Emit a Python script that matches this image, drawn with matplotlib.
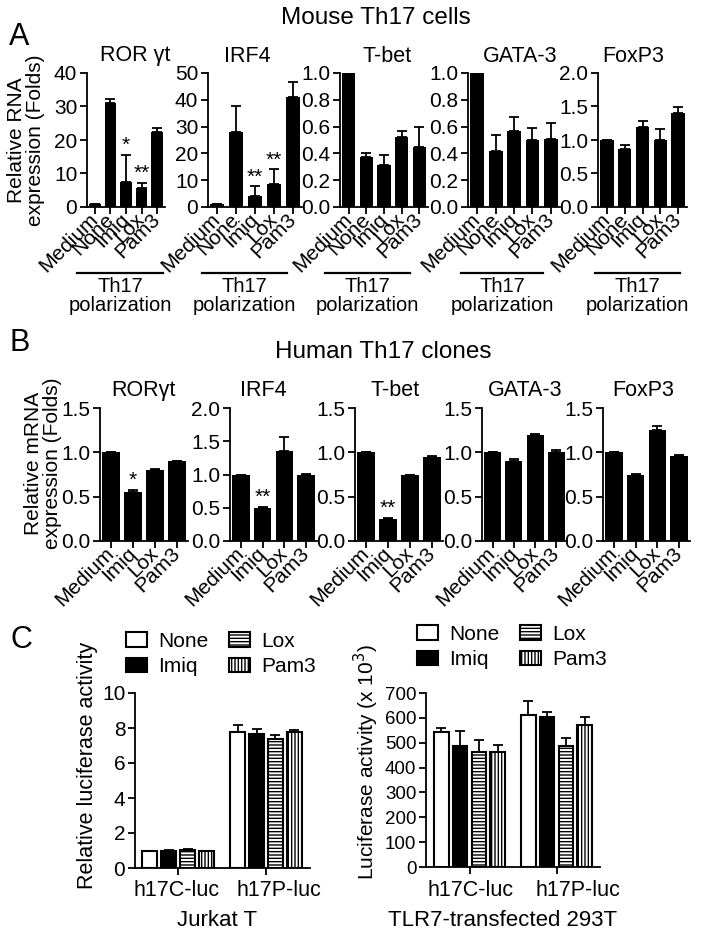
import numpy as np
import matplotlib.pyplot as plt
from matplotlib.patches import Patch
from matplotlib.lines import Line2D
from matplotlib.transforms import ScaledTranslation

plt.rcParams['font.family'] = ['Liberation Sans', 'DejaVu Sans']
plt.rcParams['hatch.linewidth'] = 1.0
plt.rcParams['hatch.color'] = 'k'

W, H = 704, 939

# ---- panel A: mouse Th17 cells ----
mouse_conds = ["Medium", "None", "Imiq", "Lox", "Pam3"]
mouse_genes = ["ROR \u03b3t", "IRF4", "T-bet", "GATA-3", "FoxP3"]
mouse_ror = [1.0, 31.0, 7.5, 5.8, 22.5]
mouse_ror_err = [0.0, 1.2, 8.0, 1.3, 1.2]
mouse_irf4 = [1.0, 28.0, 4.0, 8.5, 41.0]
mouse_irf4_err = [0.0, 9.5, 3.7, 5.5, 5.5]
mouse_tbet = [1.0, 0.37, 0.31, 0.52, 0.45]
mouse_tbet_err = [0.0, 0.03, 0.08, 0.05, 0.15]
mouse_gata3 = [1.0, 0.42, 0.57, 0.50, 0.51]
mouse_gata3_err = [0.0, 0.12, 0.10, 0.09, 0.12]
mouse_foxp3 = [1.0, 0.87, 1.20, 1.00, 1.40]
mouse_foxp3_err = [0.0, 0.06, 0.09, 0.16, 0.09]
mouse_stars = [["", "", "*", "**", ""], ["", "", "**", "**", ""],
               [""] * 5, [""] * 5, [""] * 5]
mouse_yticks = [np.arange(0, 41, 10), np.arange(0, 51, 10),
                np.arange(0, 1.01, 0.2), np.arange(0, 1.01, 0.2),
                np.arange(0, 2.01, 0.5)]
mouse_fmt = ["%d", "%d", "%.1f", "%.1f", "%.1f"]

# ---- panel B: human Th17 clones ----
human_conds = ["Medium", "Imiq", "Lox", "Pam3"]
human_genes = ["ROR\u03b3t", "IRF4", "T-bet", "GATA-3", "FoxP3"]
human_ror = [1.0, 0.55, 0.80, 0.90]
human_ror_err = [0.0, 0.03, 0.01, 0.0]
human_irf4 = [1.0, 0.50, 1.35, 1.00]
human_irf4_err = [0.0, 0.01, 0.22, 0.01]
human_tbet = [1.0, 0.25, 0.75, 0.95]
human_tbet_err = [0.0, 0.01, 0.0, 0.01]
human_gata3 = [1.0, 0.90, 1.20, 1.00]
human_gata3_err = [0.0, 0.02, 0.01, 0.03]
human_foxp3 = [1.0, 0.75, 1.25, 0.96]
human_foxp3_err = [0.0, 0.01, 0.05, 0.01]
human_stars = [["", "*", "", ""], ["", "**", "", ""], ["", "**", "", ""],
               [""] * 4, [""] * 4]
human_yticks = [np.arange(0, 1.51, 0.5), np.arange(0, 2.01, 0.5),
                np.arange(0, 1.51, 0.5), np.arange(0, 1.51, 0.5),
                np.arange(0, 1.51, 0.5)]

# ---- panel C: luciferase ----
reporters = ["h17C-luc", "h17P-luc"]
treatments = ["None", "Imiq", "Lox", "Pam3"]
jurkat = [[1.0, 7.8], [1.0, 7.65], [1.05, 7.4], [1.0, 7.75]]
jurkat_err = [[0.0, 0.35], [0.05, 0.3], [0.05, 0.2], [0.0, 0.15]]
hek = [[545, 612], [487, 603], [462, 485], [462, 572]]
hek_err = [[15, 55], [60, 20], [48, 35], [30, 32]]

fig = plt.figure(figsize=(W / 100, H / 100), dpi=100)


def add_ax(l, t, r, b):
    return fig.add_axes([l / W, 1 - b / H, (r - l) / W, (b - t) / H])


def ftext(x, y, s, **kw):
    return fig.text(x / W, 1 - y / H, s, **kw)


def style(ax, size=15):
    for s in ['top', 'right']:
        ax.spines[s].set_visible(False)
    for s in ['left', 'bottom']:
        ax.spines[s].set_linewidth(1.3)
    ax.tick_params(direction='out', length=5, width=1.3, labelsize=size, pad=2)


def bar_panel(ax, conds, vals, errs, stars, yticks, fmt, width):
    x = np.arange(len(conds))
    ax.bar(x, vals, width=width, color='k')
    ax.errorbar(x, vals, yerr=[np.zeros(len(vals)), errs], fmt='none',
                ecolor='k', elinewidth=1.3, capsize=3.5, capthick=1.3)
    for xi, v, e, s in zip(x, vals, errs, stars):
        if s:
            ax.annotate(s, (xi, v + e), xytext=(0, 0), textcoords='offset points',
                        ha='center', va='bottom', fontsize=15)
    ax.set_xlim(-0.5, len(conds) - 0.5)
    ax.set_ylim(yticks[0], yticks[-1])
    ax.set_yticks(yticks)
    ax.set_yticklabels([fmt % t for t in yticks])
    ax.set_xticks(x)
    ax.set_xticklabels(conds, rotation=45, ha='right', va='center',
                       rotation_mode='anchor', fontsize=13)
    style(ax)


# ---- A ----
ftext(9, 37, "A", fontsize=22, ha='left', va='center')
ftext(376, 18, "Mouse Th17 cells", fontsize=17.5, ha='center', va='center')
ftext(26, 140, "Relative RNA\nexpression (Folds)", fontsize=15, rotation=90,
      ha='center', va='center', multialignment='center', linespacing=1.0)

mouse_vals = [mouse_ror, mouse_irf4, mouse_tbet, mouse_gata3, mouse_foxp3]
mouse_errs = [mouse_ror_err, mouse_irf4_err, mouse_tbet_err, mouse_gata3_err,
              mouse_foxp3_err]
a_boxes = [(87, 165), (208, 302), (340, 428), (468, 560), (598, 687)]
a_title_x = [135, 247, 387, 520, 633]
a_lines = [(77, 163), (202, 287), (325, 410), (461, 543), (595, 680)]
for i in range(5):
    l, r = a_boxes[i]
    ax = add_ax(l, 73, r, 207)
    bar_panel(ax, mouse_conds, mouse_vals[i], mouse_errs[i], mouse_stars[i],
              mouse_yticks[i], mouse_fmt[i], 0.75)
    ftext(a_title_x[i], 56, mouse_genes[i], fontsize=15.5, ha='center', va='center')
    x0, x1 = a_lines[i]
    fig.add_artist(Line2D([x0 / W, x1 / W], [1 - 273 / H, 1 - 273 / H],
                          color='k', lw=1.6))
    ftext((x0 + x1) / 2, 296, "Th17\npolarization", fontsize=14.5, ha='center',
          va='center', multialignment='center', linespacing=0.95)

# ---- B ----
ftext(9, 343, "B", fontsize=22, ha='left', va='center')
ftext(383, 352, "Human Th17 clones", fontsize=17.5, ha='center', va='center')
ftext(43, 463, "Relative mRNA\nexpression (Folds)", fontsize=15, rotation=90,
      ha='center', va='center', multialignment='center', linespacing=1.0)

human_vals = [human_ror, human_irf4, human_tbet, human_gata3, human_foxp3]
human_errs = [human_ror_err, human_irf4_err, human_tbet_err, human_gata3_err,
              human_foxp3_err]
b_boxes = [(100, 188), (230, 317), (355, 443), (482, 567), (603, 690)]
b_title_x = [143, 263, 395, 525, 643]
for i in range(5):
    l, r = b_boxes[i]
    ax = add_ax(l, 408, r, 541)
    bar_panel(ax, human_conds, human_vals[i], human_errs[i], human_stars[i],
              human_yticks[i], "%.1f", 0.8)
    ftext(b_title_x[i], 390, human_genes[i], fontsize=15.5, ha='center', va='center')

# ---- C ----
ftext(11, 640, "C", fontsize=22, ha='left', va='center')

hatches = ['', '', '-----', '|||||']
faces = ['white', 'black', 'white', 'white']


def luc_panel(ax, vals, errs, yticks, xlim, label_dx, ysize):
    x = np.arange(len(reporters))
    step, w = 0.215, 0.165
    for k in range(len(treatments)):
        xs = x + (k - 1.5) * step
        ax.bar(xs, vals[k], width=w, color=faces[k], edgecolor='k',
               linewidth=1.5, hatch=hatches[k])
        ax.errorbar(xs, vals[k], yerr=[np.zeros(len(x)), errs[k]], fmt='none',
                    ecolor='k', elinewidth=1.3, capsize=3.5, capthick=1.3)
    ax.set_xlim(*xlim)
    ax.set_ylim(yticks[0], yticks[-1])
    ax.set_yticks(yticks)
    ax.set_xticks(x)
    ax.set_xticklabels(reporters)
    style(ax, ysize)
    ax.tick_params(axis='x', pad=4, labelsize=15.5)
    # GraphPad-style label placement: labels sit a little right of the ticks
    for lbl, dx in zip(ax.get_xticklabels(), label_dx):
        lbl.set_transform(lbl.get_transform() +
                          ScaledTranslation(dx / 100, 0, fig.dpi_scale_trans))
    handles = [Patch(facecolor=faces[k], edgecolor='k', linewidth=1.5,
                     hatch=hatches[k], label=treatments[k])
               for k in range(len(treatments))]
    return handles


legend_kw = dict(ncol=2, loc='upper left', frameon=False, fontsize=15,
                 handlelength=1.0, handleheight=0.7, handletextpad=0.55,
                 columnspacing=1.0, labelspacing=0.3, borderpad=0,
                 borderaxespad=0)

ax = add_ax(135, 693, 310, 868)
hs = luc_panel(ax, jurkat, jurkat_err, np.arange(0, 11, 2), (-0.49, 1.5), [-2, 13], 15)
fig.legend(handles=hs, bbox_to_anchor=(126 / W, 1 - 632 / H), **legend_kw)
ftext(88, 765, "Relative luciferase activity", fontsize=15.5, rotation=90,
      ha='center', va='center')
ftext(217, 921, "Jurkat T", fontsize=16, ha='center', va='center')

ax = add_ax(426, 693, 600, 867)
hs = luc_panel(ax, hek, hek_err, np.arange(0, 701, 100), (-0.5, 1.5), [1, 21], 13.5)
fig.legend(handles=hs, bbox_to_anchor=(417 / W, 1 - 625 / H), **legend_kw)
ftext(366, 762, "Luciferase activity (x 10$^3$)", fontsize=15, rotation=90,
      ha='center', va='center')
ftext(503, 921, "TLR7-transfected 293T", fontsize=16, ha='center', va='center')

fig.savefig("out.png", dpi=100)
